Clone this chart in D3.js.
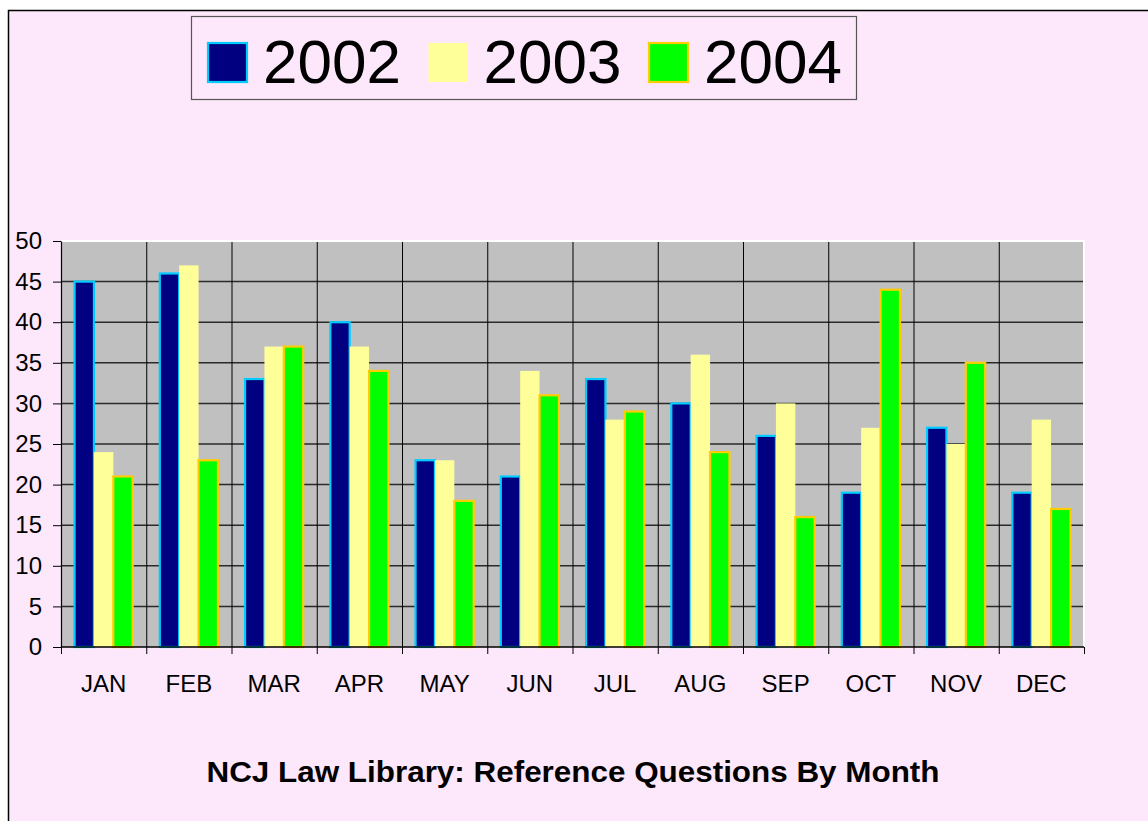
<!DOCTYPE html>
<html>
<head>
<meta charset="utf-8">
<script src="https://cdn.jsdelivr.net/npm/d3@7"></script>
<style>
  body { margin: 0; background: #fff; }
  svg { display: block; font-family: "Liberation Sans", Arial, sans-serif; }
</style>
</head>
<body>
<svg id="chart" width="1148" height="821"></svg>
<script>
'use strict';

const months = ["JAN", "FEB", "MAR", "APR", "MAY", "JUN", "JUL", "AUG", "SEP", "OCT", "NOV", "DEC"];
const years = ["2002", "2003", "2004"];
const values2002 = [45, 46, 33, 40, 23, 21, 33, 30, 26, 19, 27, 19];
const values2003 = [24, 47, 37, 37, 23, 34, 28, 36, 30, 27, 25, 28];
const values2004 = [21, 23, 37, 34, 18, 31, 29, 24, 16, 44, 35, 17];
const yTicks = [0, 5, 10, 15, 20, 25, 30, 35, 40, 45, 50];
const title = "NCJ Law Library: Reference Questions By Month";

const fills = { "2002": "#000080", "2003": "#FFFF99", "2004": "#00FF00" };
const strokes = { "2002": "#00CCFF", "2003": "none", "2004": "#FFCC00" };

const series = years.map((yr, i) => ({
    year: yr,
    values: [values2002, values2003, values2004][i]
}));

const svg = d3.select("#chart");

// page background with border
svg.append("rect")
    .attr("x", 8.5).attr("y", 10.5)
    .attr("width", 1200).attr("height", 900)
    .attr("fill", "#FDE7FA")
    .attr("stroke", "#000").attr("stroke-width", 1.5);

const plot = { left: 61, right: 1084, top: 241, bottom: 647 };

const x0 = d3.scaleBand().domain(months).range([plot.left, plot.right]);
const x1 = d3.scaleBand().domain(years).range([0, x0.bandwidth()]).paddingOuter(0.7);
const y = d3.scaleLinear().domain([0, 50]).range([plot.bottom, plot.top]);

// plot area
svg.append("rect")
    .attr("x", plot.left).attr("y", plot.top)
    .attr("width", plot.right - plot.left).attr("height", plot.bottom - plot.top)
    .attr("fill", "#C0C0C0");
svg.append("path")
    .attr("d", `M${plot.left},${plot.top} H${plot.right} V${plot.bottom}`)
    .attr("fill", "none").attr("stroke", "#fff").attr("stroke-width", 2);

// horizontal gridlines
svg.append("g").selectAll("line")
    .data(yTicks.filter(d => d > 0 && d < 50))
    .join("line")
    .attr("x1", plot.left).attr("x2", plot.right - 1)
    .attr("y1", d => y(d)).attr("y2", d => y(d))
    .attr("stroke", "#2a2a2a").attr("stroke-width", 1.5);

// vertical gridlines at category boundaries
svg.append("g").selectAll("line")
    .data(months.slice(1))
    .join("line")
    .attr("x1", d => x0(d) + 0.5).attr("x2", d => x0(d) + 0.5)
    .attr("y1", plot.top + 1).attr("y2", plot.bottom)
    .attr("stroke", "#000").attr("stroke-width", 1);

// bars
const groups = svg.append("g").selectAll("g")
    .data(series)
    .join("g");

groups.selectAll("rect")
    .data(s => s.values.map((v, i) => ({ year: s.year, month: months[i], value: v })))
    .join("rect")
    .attr("x", d => x0(d.month) + x1(d.year))
    .attr("y", d => y(d.value))
    .attr("width", x1.bandwidth())
    .attr("height", d => y(0) - y(d.value))
    .attr("fill", d => fills[d.year])
    .attr("stroke", d => strokes[d.year])
    .attr("stroke-width", 2.2);

// axes
const yAxis = d3.axisLeft(y).tickValues(yTicks).tickSize(8).tickSizeOuter(0);
const yg = svg.append("g")
    .attr("transform", `translate(${plot.left},0)`)
    .call(yAxis);
yg.select(".domain").attr("stroke", "#000").attr("stroke-width", 1.2);
yg.selectAll(".tick line").attr("stroke", "#000");
yg.selectAll(".tick text")
    .attr("x", -19)
    .attr("font-size", 24)
    .attr("font-family", "Liberation Sans, Arial, sans-serif")
    .attr("fill", "#000");

// x axis: ticks at category boundaries, labels centered in bands
const xg = svg.append("g");
xg.append("line")
    .attr("x1", plot.left).attr("x2", plot.right)
    .attr("y1", plot.bottom).attr("y2", plot.bottom)
    .attr("stroke", "#000").attr("stroke-width", 1.5);
xg.selectAll("line.tick")
    .data(months.concat(["end"]))
    .join("line")
    .attr("class", "tick")
    .attr("x1", (d, i) => (i < months.length ? x0(d) : plot.right) + 0.5)
    .attr("x2", (d, i) => (i < months.length ? x0(d) : plot.right) + 0.5)
    .attr("y1", plot.bottom).attr("y2", plot.bottom + 7)
    .attr("stroke", "#000");
xg.selectAll("text")
    .data(months)
    .join("text")
    .attr("x", d => x0(d) + x0.bandwidth() / 2)
    .attr("y", 692)
    .attr("text-anchor", "middle")
    .attr("font-size", 24)
    .text(d => d);

// legend
const legend = svg.append("g");
legend.append("rect")
    .attr("x", 191.5).attr("y", 16.5)
    .attr("width", 665).attr("height", 83)
    .attr("fill", "#FDE7FA")
    .attr("stroke", "#555").attr("stroke-width", 1.2);

const lItems = legend.selectAll("g.item")
    .data(years)
    .join("g")
    .attr("class", "item")
    .attr("transform", (d, i) => `translate(${207 + i * 220.5},42)`);
lItems.append("rect")
    .attr("x", 1).attr("y", 1)
    .attr("width", 39).attr("height", 39)
    .attr("fill", d => fills[d])
    .attr("stroke", d => strokes[d])
    .attr("stroke-width", 2.2);
lItems.append("text")
    .attr("x", 56).attr("y", 41)
    .attr("font-size", 62)
    .text(d => d);

// title
svg.append("text")
    .attr("x", 573).attr("y", 782)
    .attr("text-anchor", "middle")
    .attr("font-size", 29)
    .attr("font-weight", "bold")
    .attr("textLength", 733)
    .attr("lengthAdjust", "spacingAndGlyphs")
    .text(title);
</script>
</body>
</html>
